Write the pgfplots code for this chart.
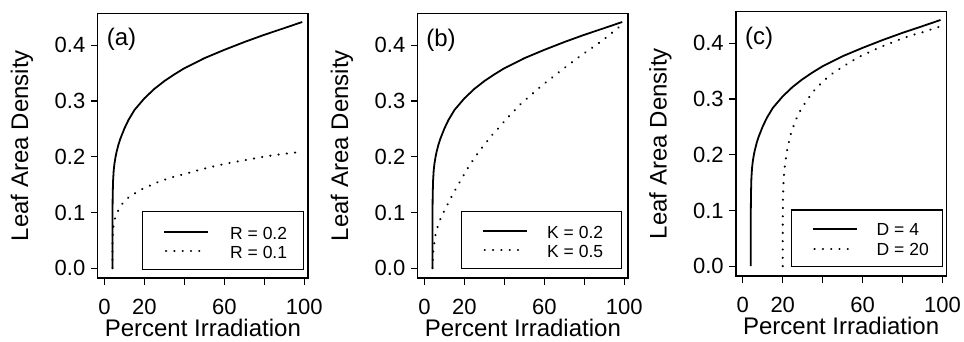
\documentclass[border=0pt]{standalone}
\usepackage{pgfplots}
\pgfplotsset{compat=1.18}
\usepackage{fontspec}
\setmainfont{Liberation Sans}
\newcommand{\fs}[1]{\fontsize{#1}{#1}\selectfont}

\tikzset{
  solidc/.style={black, line width=1.8pt, line join=round},
  dotc/.style={black, line width=2.2pt, line cap=round, dash pattern=on 0.2pt off 8.1pt},
}
\pgfplotsset{
  panel/.style={
    scale only axis, width=210.3pt, height=264.7pt,
    xmin=-3.4, xmax=101.9, ymin=-0.0176, ymax=0.4576,
    xtick={0,20,40,60,80,100}, xticklabels={0,20,,60,,100},
    ytick={0,0.1,0.2,0.3,0.4}, yticklabels={0.0,0.1,0.2,0.3,0.4},
    tick align=outside, major tick length=7pt,
    xtick pos=bottom, ytick pos=left,
    axis line style={line width=1.3pt},
    every tick/.style={black, line width=1.2pt},
    /pgf/number format/assume math mode=true,
    tick label style={font=\fs{22}},
    xticklabel style={inner sep=0pt, anchor=north, yshift=-14pt},
    yticklabel style={inner sep=0pt, anchor=east, xshift=-5.2pt},
    xlabel={Percent Irradiation}, ylabel={Leaf Area Density},
    label style={font=\fs{24}},
    xlabel style={at={(axis description cs:0.5,-0.2218)}, anchor=base, inner sep=0pt},
    ylabel style={at={(axis description cs:-0.36,0.5)}, anchor=center, inner sep=0pt},
    clip=false,
  },
}
% manual legend key: #1 left, #2 right, #3 bottom, #4 top (box, offsets from the SE corner),
% #5 sample start, #6 sample end, #7 solid y, #8 dotted y, #9 text x
\newcommand{\legbox}[9]{%
  \draw[line width=1.2pt, fill=white] ([xshift=#1pt,yshift=#3pt]rel axis cs:1,0) rectangle ([xshift=#2pt,yshift=#4pt]rel axis cs:1,0);
  \draw[solidc] ([xshift=#5pt,yshift=#7pt]rel axis cs:1,0) -- ([xshift=#6pt,yshift=#7pt]rel axis cs:1,0);
  \draw[dotc] ([xshift=#5pt,xshift=2pt,yshift=#8pt]rel axis cs:1,0) -- ([xshift=#6pt,xshift=-7pt,yshift=#8pt]rel axis cs:1,0);
  \def\legtx{#9}}
\newcommand{\legtext}[4]{%
  \node[anchor=west, inner sep=0pt, font=\fs{17.5}] at ([xshift=\legtx pt,yshift=#1pt]rel axis cs:1,0) {#2};
  \node[anchor=west, inner sep=0pt, font=\fs{17.5}] at ([xshift=\legtx pt,yshift=#3pt]rel axis cs:1,0) {#4};}

\begin{document}
\begin{tikzpicture}
\useasboundingbox (0,0) rectangle (964pt,341pt);

% ---------------- (a)
\begin{axis}[panel, at={(97.7pt,63pt)}, anchor=south west]
\addplot[solidc] coordinates {(4,0) (4.0005,0.04) (4.003,0.07) (4.02,0.10) (4.1,0.13) (4.3,0.157) (4.6,0.175) (5,0.188) (5.5,0.199) (6,0.208) (7,0.222) (8,0.233) (10,0.251) (12,0.266) (15,0.284) (20,0.305) (25,0.322) (30,0.336) (35,0.348) (40,0.359) (50,0.377) (60,0.392) (70,0.406) (80,0.419) (90,0.431) (99,0.442)};
\addplot[dotc] coordinates {(4,0) (4.001,0.025) (4.02,0.045) (4.2,0.065) (4.6,0.079) (5,0.086) (6,0.097) (7,0.104) (9,0.116) (12,0.127) (15.5,0.135) (19.3,0.143) (23.3,0.149) (27,0.155) (31,0.160) (35.5,0.165) (40,0.169) (48,0.177) (56,0.184) (64,0.190) (72,0.195) (81,0.201) (89,0.205) (99,0.209)};
\legbox{-165.3}{-4.7}{8.7}{66.3}{-144}{-99.7}{46.3}{27}{-78}
\legtext{45}{R = 0.2}{25.8}{R = 0.1}
\node[anchor=west, inner sep=0pt, font=\fs{24}, xshift=9pt, yshift=-26pt] at (rel axis cs:0,1) {(a)};
\end{axis}

% ---------------- (b)
\begin{axis}[panel, at={(417.7pt,63pt)}, anchor=south west]
\addplot[solidc] coordinates {(4,0) (4.0005,0.04) (4.003,0.07) (4.02,0.10) (4.1,0.13) (4.3,0.157) (4.6,0.175) (5,0.188) (5.5,0.199) (6,0.208) (7,0.222) (8,0.233) (10,0.251) (12,0.266) (15,0.284) (20,0.305) (25,0.322) (30,0.336) (35,0.348) (40,0.359) (50,0.377) (60,0.392) (70,0.406) (80,0.419) (90,0.431) (99,0.442)};
\addplot[dotc] coordinates {(4,0) (4.3,0.028) (5,0.048) (5.5,0.060) (7,0.080) (8.5,0.093) (11.3,0.113) (14.7,0.136) (17.7,0.155) (21,0.176) (24.3,0.194) (27.2,0.209) (30.5,0.224) (33.8,0.239) (37.2,0.252) (40.5,0.266) (48.8,0.297) (58.8,0.328) (68.8,0.356) (78.8,0.383) (88.8,0.408) (98.5,0.436)};
\legbox{-166.6}{-6.6}{9.7}{66.3}{-145.3}{-101}{47.3}{28}{-81}
\legtext{46}{K = 0.2}{26.5}{K = 0.5}
\node[anchor=west, inner sep=0pt, font=\fs{24}, xshift=8.5pt, yshift=-27pt] at (rel axis cs:0,1) {(b)};
\end{axis}

% ---------------- (c)
\begin{axis}[panel, at={(736pt,65pt)}, anchor=south west]
\addplot[solidc] coordinates {(4,0) (4.0005,0.04) (4.003,0.07) (4.02,0.10) (4.1,0.13) (4.3,0.157) (4.6,0.175) (5,0.188) (5.5,0.199) (6,0.208) (7,0.222) (8,0.233) (10,0.251) (12,0.266) (15,0.284) (20,0.305) (25,0.322) (30,0.336) (35,0.348) (40,0.359) (50,0.377) (60,0.392) (70,0.406) (80,0.419) (90,0.431) (99,0.442)};
\addplot[dotc] coordinates {(20,0) (20.001,0.04) (20.02,0.09) (20.1,0.12) (20.3,0.145) (20.6,0.163) (21,0.178) (22,0.205) (23.8,0.235) (26.3,0.261) (29.2,0.282) (32.5,0.300) (36.3,0.318) (40.8,0.334) (45.3,0.347) (50,0.358) (55,0.369) (60,0.379) (65,0.387) (70,0.395) (75,0.402) (80,0.409) (85,0.415) (90,0.420) (95,0.426) (98.5,0.430)};
\legbox{-154.8}{-3.8}{9.3}{66}{-133.8}{-89.2}{47}{27.3}{-69.8}
\legtext{46.5}{D = 4}{26.5}{D = 20}
\node[anchor=west, inner sep=0pt, font=\fs{24}, xshift=9pt, yshift=-27pt] at (rel axis cs:0,1) {(c)};
\end{axis}
\end{tikzpicture}
\end{document}
